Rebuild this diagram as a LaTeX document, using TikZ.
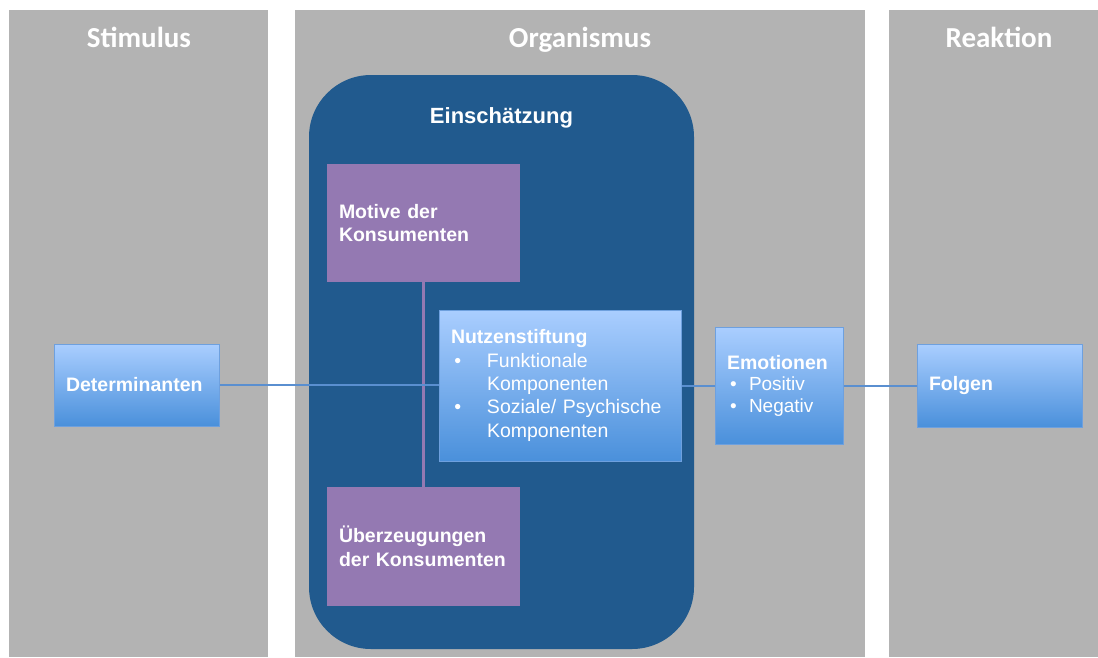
\documentclass[tikz,border=0pt]{standalone}
\usepackage{fontspec}
\setmainfont{Liberation Sans}
\newfontfamily\headfont{Carlito}
\usetikzlibrary{calc}

\definecolor{colgray}{RGB}{179,179,179}
\definecolor{deepblue}{RGB}{33,90,142}
\definecolor{lilac}{RGB}{148,121,178}
\definecolor{skytop}{RGB}{170,206,255}
\definecolor{skybot}{RGB}{74,144,219}
\definecolor{skyedge}{RGB}{110,160,222}
\definecolor{linkblue}{RGB}{90,143,208}

% stages at the back, connectors above them, boxes on top
\pgfdeclarelayer{stage}
\pgfdeclarelayer{wires}
\pgfsetlayers{stage,wires,main}

\tikzset{
  column/.style={fill=colgray, draw=none, inner sep=0pt},
  coltitle/.style={text=white, font=\headfont\bfseries\fontsize{29}{32}\selectfont, anchor=base, inner sep=0pt},
  panel/.style={fill=deepblue, draw=none, rounded corners=62pt, inner sep=0pt},
  paneltitle/.style={text=white, font=\bfseries\fontsize{22}{26}\selectfont, anchor=base, inner sep=0pt},
  factor/.style={fill=lilac, draw=none, text=white, align=left, inner xsep=12pt, inner ysep=0pt,
    font=\bfseries\fontsize{19.5}{23.5}\selectfont},
  skybox/.style={top color=skytop, bottom color=skybot, draw=skyedge, line width=0.8pt,
    text=white, align=left, inner xsep=12pt, inner ysep=0pt, font=\fontsize{19.5}{23.3}\selectfont},
  link/.style={draw=linkblue, line width=2pt},
  stem/.style={draw=lilac, line width=3pt},
}

\begin{document}
\begin{tikzpicture}[x=1pt, y=-1pt]
  \useasboundingbox (0,0) rectangle (1098,657);

  \begin{pgfonlayer}{stage}
    \fill[white] (0,0) rectangle (1098,657);
    % three stages
    \node[column, minimum width=259pt, minimum height=647pt] (stim) at (138.5,333.5) {};
    \node[column, minimum width=570pt, minimum height=647pt] (org) at (580,333.5) {};
    \node[column, minimum width=209pt, minimum height=647pt] (reak) at (993.5,333.5) {};
    % appraisal panel
    \node[panel, minimum width=385pt, minimum height=574pt] (eval) at (501.5,362) {};
  \end{pgfonlayer}

  \node[coltitle] (tstim) at (139,47) {Stimulus};
  \node[coltitle] (torg) at (580,47) {Organismus};
  \node[coltitle] (treak) at (999,47) {Reaktion};
  \node[paneltitle] (teval) at (501.5,123) {Einschätzung};

  % factors
  \node[factor, text width=169pt, minimum height=118pt] (motive) at (423.5,223)
    {Motive der\\Konsumenten};
  \node[factor, text width=169pt, minimum height=119pt] (belief) at (423.5,546.5)
    {Überzeugungen\\der Konsumenten};

  % sky-blue boxes
  \node[skybox, text width=141pt, minimum height=82pt] (det) at (136.5,385)
    {\textbf{Determinanten}};
  \node[skybox, text width=218pt, minimum height=151pt] (nutz) at (560,385.5)
    {\textbf{Nutzenstiftung}\\
     \makebox[36pt][l]{\,•}Funktionale\\
     \hspace*{36pt}Komponenten\\
     \makebox[36pt][l]{\,•}Soziale/ Psychische\\
     \hspace*{36pt}Komponenten};
  \node[skybox, text width=104pt, minimum height=117pt, font=\fontsize{19}{21.5}\selectfont] (emo) at (779,385.5)
    {\textbf{\fontsize{19.5}{23}\selectfont Emotionen}\\
     \makebox[22pt][l]{\,•}Positiv\\
     \makebox[22pt][l]{\,•}Negativ};
  \node[skybox, text width=141pt, minimum height=83pt] (folgen) at (999.5,385.5)
    {\textbf{Folgen}};

  % connectors
  \begin{pgfonlayer}{wires}
    \draw[stem] (motive.south) -- (belief.north);
    \draw[link] (det.east) -- (det.east -| nutz.west);
    \draw[link] (nutz.east |- emo.west) -- (emo.west);
    \draw[link] (emo.east) -- (emo.east -| folgen.west);
  \end{pgfonlayer}
\end{tikzpicture}
\end{document}
